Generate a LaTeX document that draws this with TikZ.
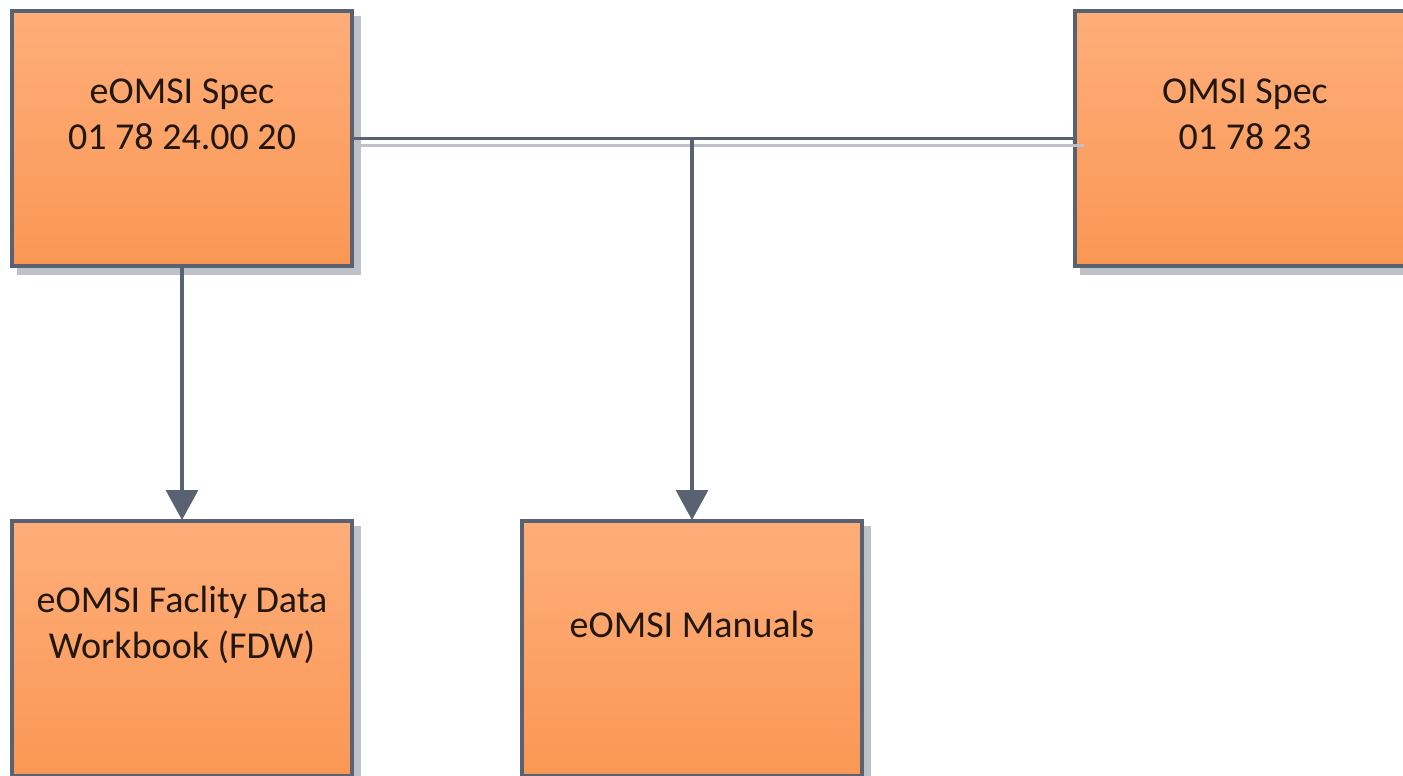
\documentclass[tikz,border=0pt]{standalone}
\usepackage{fontspec}
\setmainfont{Carlito}
\usetikzlibrary{arrows.meta,calc,backgrounds}
\definecolor{edgec}{HTML}{5A6271}
\definecolor{shadowc}{HTML}{BEC1C8}
\definecolor{toporange}{HTML}{FEAE7A}
\definecolor{botorange}{HTML}{FA9754}
\definecolor{txtc}{HTML}{22170F}
\tikzset{
  specbox/.style={rectangle, draw=edgec, line width=1.75pt, top color=toporange, bottom color=botorange,
    minimum width=170pt, minimum height=127.5pt, inner sep=0pt, outer sep=0pt},
  boxtext/.style={font=\fontsize{19}{23}\selectfont, text=txtc, align=center, inner sep=0pt},
  conn/.style={draw=edgec, line width=1.6pt},
  connshadow/.style={draw=shadowc, line width=1.5pt},
  arrowconn/.style={conn, -{Triangle[width=16pt,length=15pt]}, shorten >=0.5pt},
  boxshadow/.style={fill=shadowc}
}
\begin{document}
\begin{tikzpicture}[x=0.5pt,y=-0.5pt]
\useasboundingbox (0,0) rectangle (1403,776);
\clip (0,0) rectangle (1403,776);
% boxes
\node[specbox] (a) at (182,138.5) {};
\node[specbox] (b) at (1245,138.5) {};
\node[specbox] (c) at (182,648.5) {};
\node[specbox] (d) at (692,648.5) {};
% shadows
\begin{scope}[on background layer]
\foreach \n in {a,b,c,d}
  \fill[boxshadow] ([xshift=2.5pt,yshift=-2.5pt]\n.north west) rectangle ([xshift=4.5pt,yshift=-4.5pt]\n.south east);
\end{scope}
% texts
\node[boxtext] (at) at ([yshift=12pt]a.center) {eOMSI Spec\\01 78 24.00 20};
\node[boxtext] (bt) at ([yshift=12pt]b.center) {OMSI Spec\\01 78 23};
\node[boxtext] (ct) at ([yshift=12pt]c.center) {eOMSI Faclity Data\\Workbook (FDW)};
\node[boxtext] (dt) at ([yshift=12pt]d.center) {eOMSI Manuals};
% connectors
\coordinate (j) at (d.north |- a.east);
\coordinate (sa) at ([xshift=2.5pt,yshift=-3.5pt]a.east);
\coordinate (sb) at ([xshift=4.5pt,yshift=-3.5pt]b.west);
\draw[connshadow] (sa) -- (sb);
\draw[conn] (a.east) -- (b.west);
\draw[arrowconn] (j) -- (d.north);
\draw[arrowconn] (a.south) -- (c.north);
\end{tikzpicture}
\end{document}
